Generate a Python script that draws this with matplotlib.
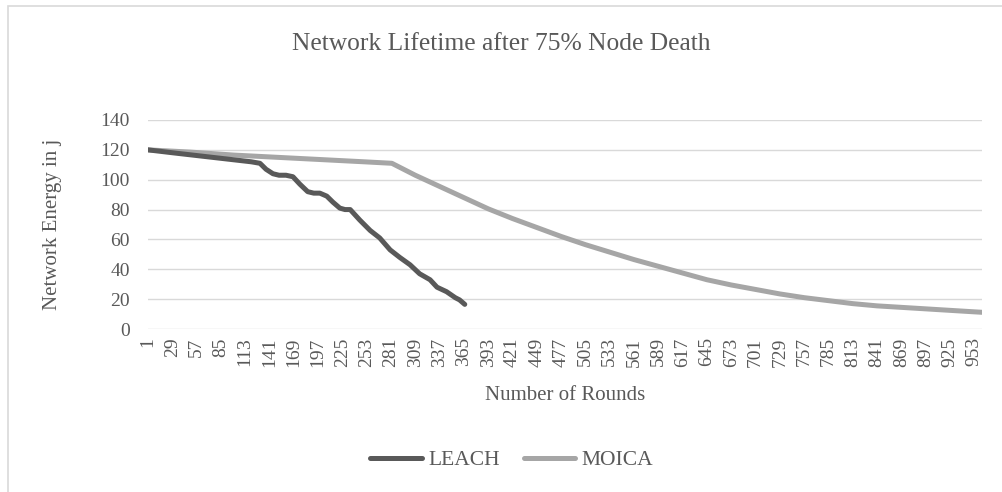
import numpy as np
import matplotlib.pyplot as plt
from matplotlib.patches import Rectangle

plt.rcParams['font.family'] = ['Liberation Serif', 'DejaVu Serif']

# values (round number, energy in j)
leach_rounds = [1, 30, 60, 90, 120, 130, 137, 145, 152, 160, 168, 176, 185, 192,
                199, 207, 214, 222, 228, 234, 245, 257, 268, 280, 291, 303, 314,
                326, 334, 345, 355, 360, 366]
leach_energy = [120, 118, 116, 114, 112, 111, 107, 104, 103, 103, 102, 97, 92, 91,
                91, 89, 85, 81, 80, 80, 73, 66, 61, 53, 48, 43, 37,
                33, 28, 25, 21, 19.5, 16.5]

moica_rounds = [1, 50, 100, 150, 200, 250, 282, 309, 337, 365, 393, 421, 449, 477,
                505, 533, 561, 589, 617, 645, 673, 701, 729, 757, 785, 813, 841,
                869, 897, 925, 953, 962]
moica_energy = [120, 118.5, 116.5, 115, 113.5, 112, 111, 103, 95.5, 88, 80.5, 74, 68, 62,
                56.5, 51.5, 46.5, 42, 37.5, 33, 29.5, 26.5, 23.5, 21, 19, 17, 15.5,
                14.5, 13.5, 12.5, 11.5, 11.2]

n_rounds = 962
tick_rounds = list(range(1, n_rounds, 28))

W, H = 1003, 492
fig = plt.figure(figsize=(W / 100, H / 100), dpi=100)
ax = fig.add_axes([148 / W, 1 - 329 / H, (982 - 148) / W, (329 - 120) / H])

txt = '#595959'
grid = '#d9d9d9'

ax.plot(leach_rounds, leach_energy, color='#595959', lw=3.6, label='LEACH',
        solid_capstyle='round', solid_joinstyle='round', zorder=3)
ax.plot(moica_rounds, moica_energy, color='#a6a6a6', lw=3.6, label='MOICA',
        solid_capstyle='round', solid_joinstyle='round', zorder=2)

ax.set_xlim(1, n_rounds)
ax.set_ylim(0, 140)
ax.set_yticks(range(0, 141, 20))
ax.set_xticks(tick_rounds)
ax.set_xticklabels([str(t) for t in tick_rounds], rotation=90)
ax.grid(axis='y', color=grid, lw=1)
ax.set_axisbelow(True)
for s in ax.spines.values():
    s.set_visible(False)
ax.tick_params(length=0, labelsize=14, colors=txt)
ax.tick_params(axis='x', pad=6)
ax.tick_params(axis='y', pad=13)

ax.set_xlabel('Number of Rounds', fontsize=15, color=txt, labelpad=14)
ax.set_ylabel('Network Energy in j', fontsize=15, color=txt, labelpad=28)
fig.text(0.5, 1 - 44 / H, 'Network Lifetime after 75% Node Death',
         ha='center', va='center', fontsize=18.4, color=txt)

fig.legend(loc='center', bbox_to_anchor=(512 / W, 1 - 460 / H), ncol=2, frameon=False,
           fontsize=15.5, handlelength=2.4, handletextpad=0.3, columnspacing=1.1,
           labelcolor=txt)

fig.patches.append(Rectangle((8 / W, -0.1), 1.2, 1.1 - 6 / H, transform=fig.transFigure,
                             fill=False, edgecolor=grid, lw=1.2))

fig.savefig('out.png', dpi=100)
